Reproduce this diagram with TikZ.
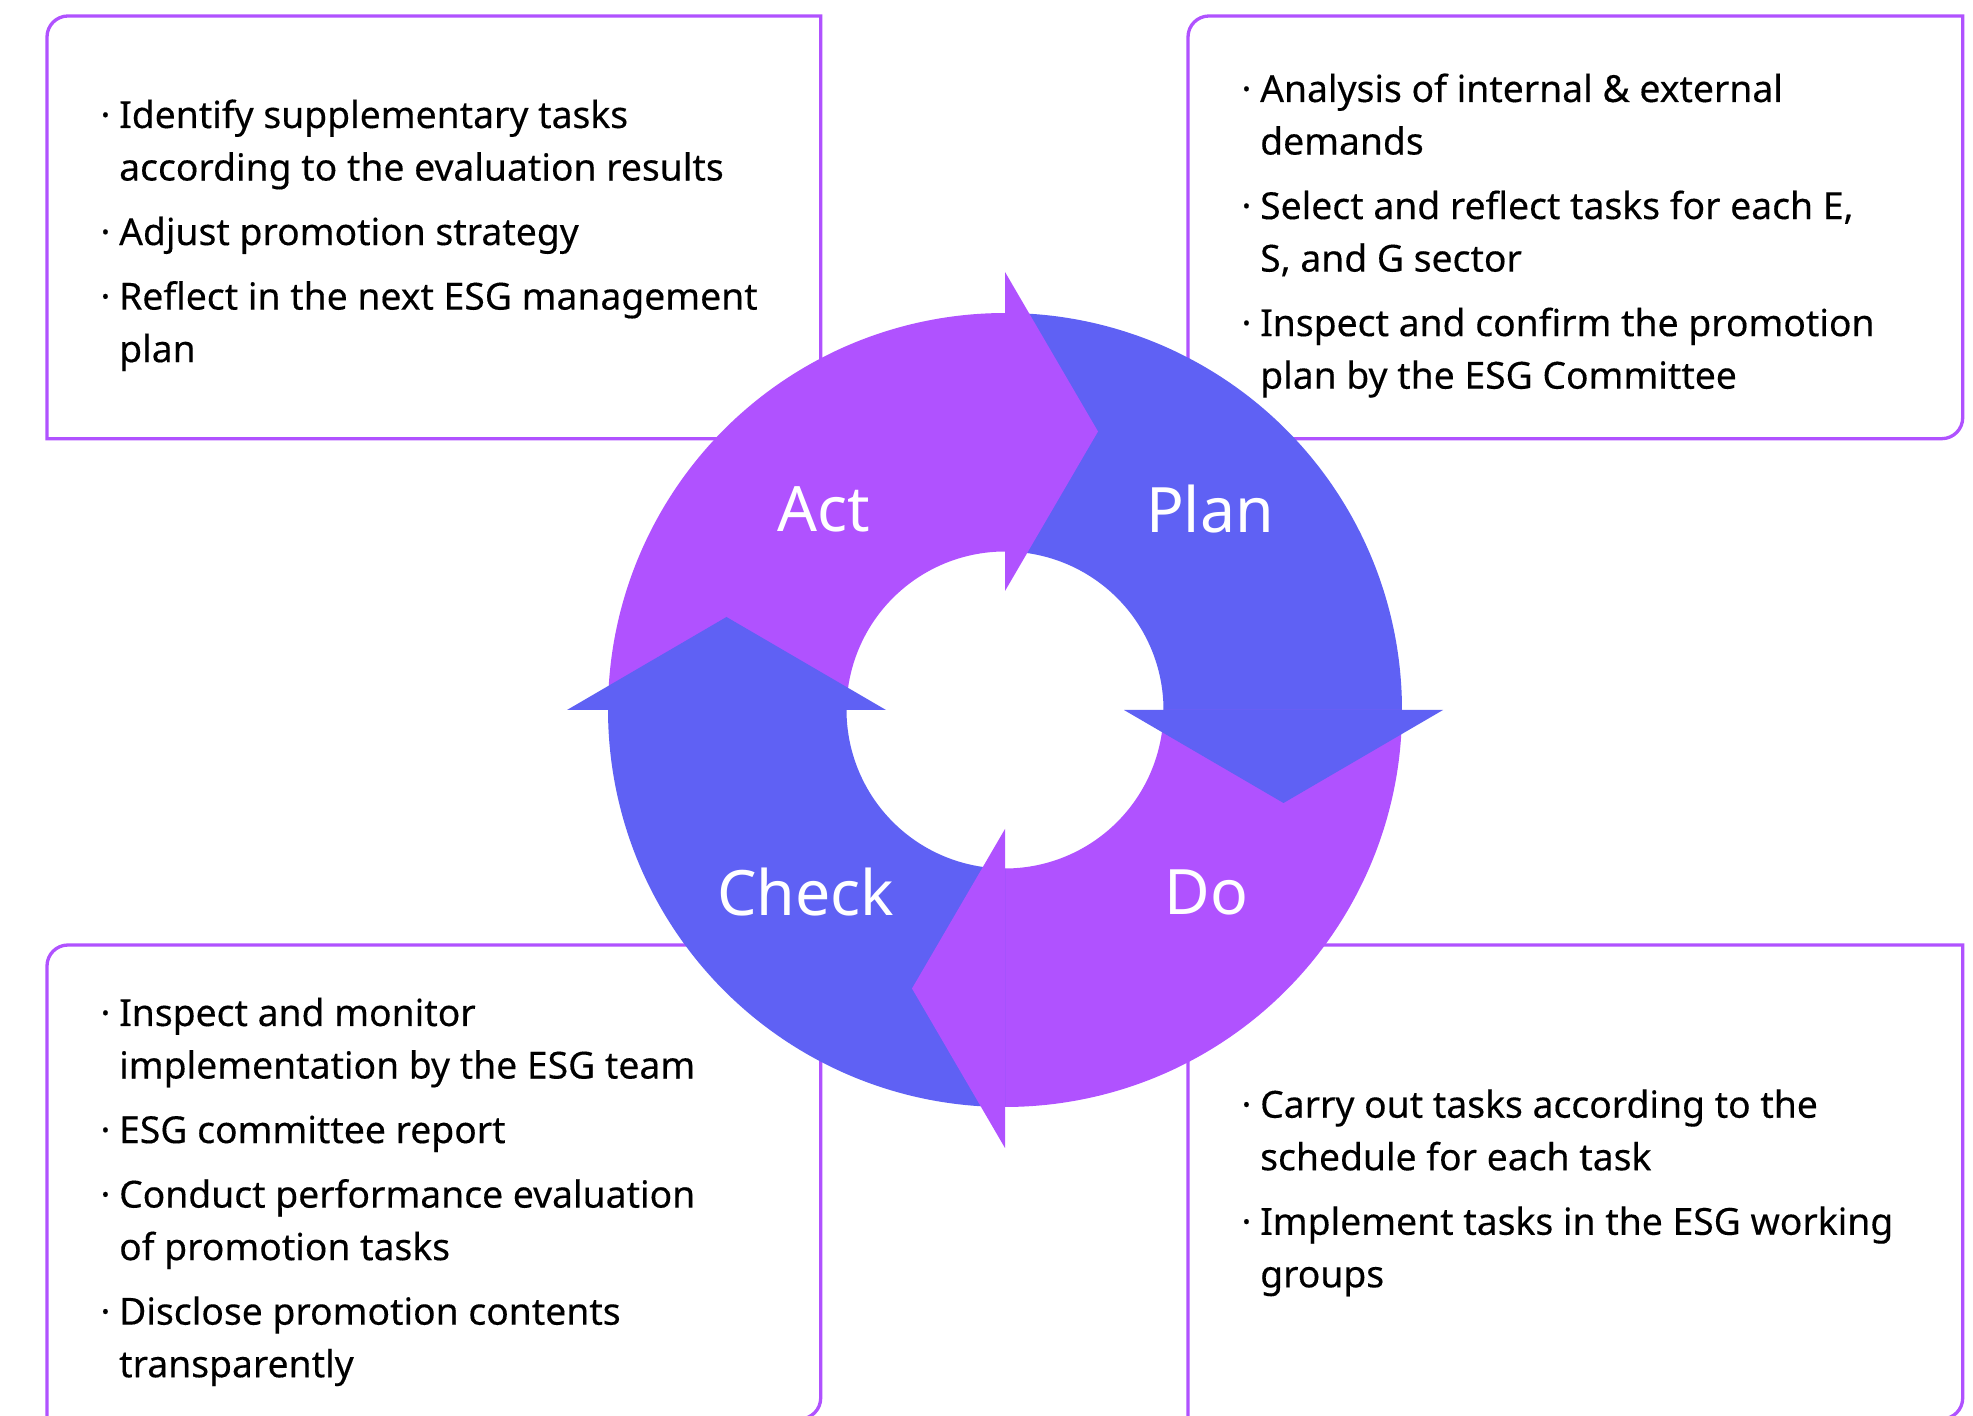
\documentclass[tikz,border=0pt]{standalone}
\usepackage{fontspec}
\setmainfont{Noto Sans}
\newfontfamily\pdcaBodyFont[FakeBold=0.3]{Noto Sans}

\definecolor{pdcaPurple}{RGB}{176,82,255}
\definecolor{pdcaBlue}{RGB}{95,97,244}

% bullet lists: bullet line, continuation line, gap between bullets
\newlength\pdcaBw
\setlength\pdcaBw{7.82pt}
\newcommand\pdcaItem[1]{\hbox{\makebox[\pdcaBw][c]{·}#1}}
\newcommand\pdcaCont[1]{\hbox{\hspace*{\pdcaBw}#1}}
\newcommand\pdcaGap{\vskip3.41pt}
\newcommand\pdcaList[1]{\vtop{\baselineskip=14.94pt\lineskiplimit=-\maxdimen\lineskip=0pt #1}}

\tikzset{
  infobox/.style={draw=pdcaPurple, line width=0.94pt},
  listtext/.style={anchor=base west, inner sep=0pt, text=black,
    font=\pdcaBodyFont\fontsize{10.6pt}{14.94pt}\selectfont},
  phase/.style={inner sep=0pt, text=white, font=\fontsize{17.8pt}{20pt}\selectfont},
}

\begin{document}
\begin{tikzpicture}[x=0.01cm, y=0.01cm]
  \useasboundingbox (0,0) rectangle (1973,1415);
  \fill[white] (0,0) rectangle (1973,1415);

  % information boxes
  \draw[infobox] (47,976.3) -- (47,1378) arc[start angle=180, end angle=90, radius=21]
    -- (820.7,1399) -- (820.7,976.3) -- cycle;
  \draw[infobox] (1188,976.3) -- (1188,1378) arc[start angle=180, end angle=90, radius=21]
    -- (1962.7,1399) -- (1962.7,997.3) arc[start angle=0, end angle=-90, radius=21] -- cycle;
  \draw[infobox] (47,-4) -- (47,449) arc[start angle=180, end angle=90, radius=21]
    -- (820.7,470) -- (820.7,17) arc[start angle=0, end angle=-90, radius=21] -- cycle;
  \draw[infobox] (1188,-4) -- (1188,470) -- (1962.7,470)
    -- (1962.7,17) arc[start angle=0, end angle=-90, radius=21] -- cycle;

  % box texts
  \node[listtext] (actText) at (91,1287) {\pdcaList{%
    \pdcaItem{Identify supplementary tasks}
    \pdcaCont{according to the evaluation results}\pdcaGap
    \pdcaItem{Adjust promotion strategy}\pdcaGap
    \pdcaItem{Reflect in the next ESG management}
    \pdcaCont{plan}}};
  \node[listtext] (planText) at (1232,1313) {\pdcaList{%
    \pdcaItem{Analysis of internal \& external}
    \pdcaCont{demands}\pdcaGap
    \pdcaItem{Select and reflect tasks for each E,}
    \pdcaCont{S, and G sector}\pdcaGap
    \pdcaItem{Inspect and confirm the promotion}
    \pdcaCont{plan by the ESG Committee}}};
  \node[listtext] (checkText) at (91,389) {\pdcaList{%
    \pdcaItem{Inspect and monitor}
    \pdcaCont{implementation by the ESG team}\pdcaGap
    \pdcaItem{ESG committee report}\pdcaGap
    \pdcaItem{Conduct performance evaluation}
    \pdcaCont{of promotion tasks}\pdcaGap
    \pdcaItem{Disclose promotion contents}
    \pdcaCont{transparently}}};
  \node[listtext] (doText) at (1232,297.3) {\pdcaList{%
    \pdcaItem{Carry out tasks according to the}
    \pdcaCont{schedule for each task}\pdcaGap
    \pdcaItem{Implement tasks in the ESG working}
    \pdcaCont{groups}}};

  % PDCA cycle ring
  \begin{scope}[shift={(1005,705)}]
    % ring quarters (each runs a little under the next arrow head)
    \fill[pdcaBlue] (90:397) arc[start angle=90, end angle=-0.6, radius=397]
      -- (-0.6:158.5) arc[start angle=-0.6, end angle=90, radius=158.5] -- cycle;
    \fill[pdcaPurple] (0:397) arc[start angle=0, end angle=-90.6, radius=397]
      -- (-90.6:158.5) arc[start angle=-90.6, end angle=0, radius=158.5] -- cycle;
    \fill[pdcaBlue] (-90:397) arc[start angle=-90, end angle=-180.6, radius=397]
      -- (-180.6:158.5) arc[start angle=-180.6, end angle=-90, radius=158.5] -- cycle;
    \fill[pdcaPurple] (180:397) arc[start angle=180, end angle=89.4, radius=397]
      -- (89.4:158.5) arc[start angle=89.4, end angle=180, radius=158.5] -- cycle;
    % arrow heads
    \fill[pdcaPurple] (90:119) -- (90:438) -- (93,278.5) -- cycle;
    \fill[pdcaBlue] (0:119) -- (0:438) -- (278.5,-93) -- cycle;
    \fill[pdcaPurple] (-90:119) -- (-90:438) -- (-93,-278.5) -- cycle;
    \fill[pdcaBlue] (180:119) -- (180:438) -- (-278.5,93) -- cycle;
    % phase labels
    \node[phase] (act) at (-181.5,201) {Act};
    \node[phase] (plan) at (205,201) {Plan};
    \node[phase] (check) at (-199.5,-182) {Check};
    \node[phase] (do) at (201.5,-182) {Do};
  \end{scope}
\end{tikzpicture}
\end{document}
